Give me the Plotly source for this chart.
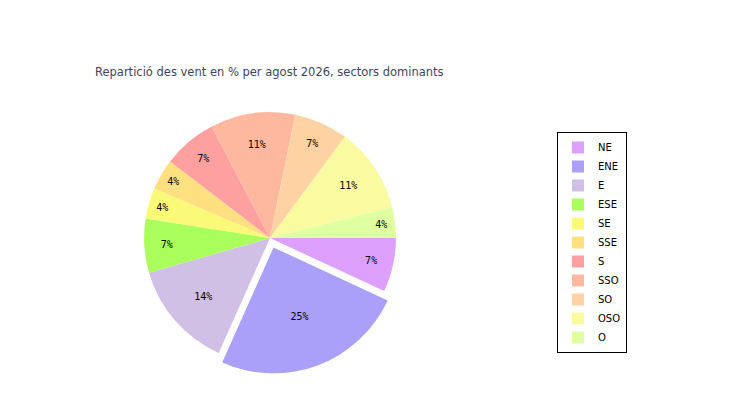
import plotly.graph_objects as go

sectors = ["NE", "ENE", "E", "ESE", "SE", "SSE", "S", "SSO", "SO", "OSO", "O"]
percent = [7, 25, 14, 7, 4, 4, 7, 11, 7, 11, 4]
colors = ["#DDA0FC", "#AAA0FA", "#D0C0E6", "#AAFF5C", "#FAFA78", "#FFE080",
          "#FFA0A0", "#FFB8A0", "#FFD2A4", "#FAFAA0", "#E0FFA0"]
pulls = [0, 0.08, 0, 0, 0, 0, 0, 0, 0, 0, 0]
title = "Repartició des vent en % per agost 2026, sectors dominants"

fig = go.Figure(go.Pie(
    labels=sectors,
    values=percent,
    sort=False,
    direction="clockwise",
    rotation=90,
    pull=pulls,
    marker=dict(colors=colors, line=dict(width=0)),
    texttemplate="%{value}%",
    textposition="inside",
    insidetextorientation="horizontal",
    textfont=dict(family="DejaVu Sans Mono", size=10, color="black"),
    domain=dict(x=[0.1627, 0.536], y=[0.085, 0.765]),
    hoverinfo="label+value",
))

fig.update_layout(
    width=750, height=400,
    paper_bgcolor="white",
    margin=dict(l=0, r=0, t=0, b=0),
    title=dict(text=title, x=87/750, xanchor="left", xref="container",
               y=1-64/400, yanchor="middle", yref="container",
               font=dict(family="DejaVu Sans", size=11.5, color="#3C4660")),
    legend=dict(x=549/750, y=1-124/400, xanchor="left", yanchor="top",
                bordercolor="black", borderwidth=1, bgcolor="white",
                font=dict(family="DejaVu Sans", size=10, color="black"),
                tracegroupgap=0, itemwidth=30),
    showlegend=True,
)

fig.write_html("out.html")
